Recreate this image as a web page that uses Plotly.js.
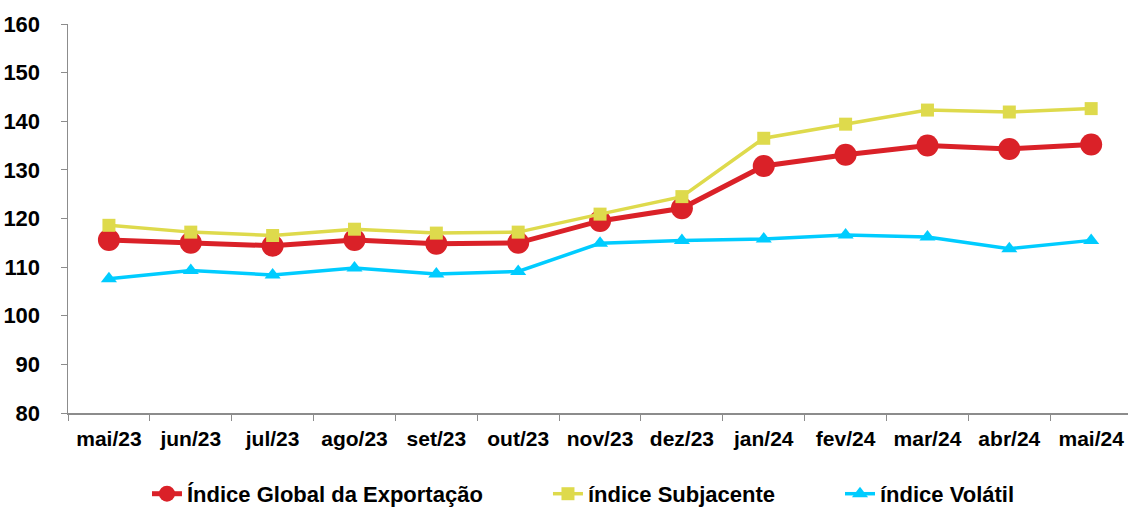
<!DOCTYPE html>
<html>
<head>
<meta charset="utf-8">
<script src="https://cdn.plot.ly/plotly-3.0.1.min.js"></script>
<style>
html,body{margin:0;padding:0;background:#fff;overflow:hidden;}
#chart{width:1128px;height:507px;}
</style>
</head>
<body>
<div id="chart"></div>
<script>
const categories = ["mai/23","jun/23","jul/23","ago/23","set/23","out/23","nov/23","dez/23","jan/24","fev/24","mar/24","abr/24","mai/24"];
const indiceGlobal = [115.6,115.0,114.4,115.6,114.8,115.0,119.5,122.1,130.8,133.1,135.0,134.3,135.2];
const indiceSubjacente = [118.6,117.2,116.5,117.8,117.0,117.2,120.9,124.5,136.5,139.4,142.3,141.9,142.6];
const indiceVolatil = [107.6,109.3,108.4,109.8,108.6,109.1,114.9,115.5,115.8,116.6,116.2,113.8,115.5];
const seriesNames = ["Índice Global da Exportação","índice Subjacente","índice Volátil"];

const font = "Liberation Sans, Arial, sans-serif";
const legFont = {family: font, size: 22, color: '#000', weight: 'bold'};

const traces = [
  {x: categories, y: indiceGlobal, name: seriesNames[0], type: 'scatter', mode: 'lines+markers', legend: 'legend',
   line: {color: '#DA2128', width: 5}, marker: {symbol: 'circle', size: 22, color: '#DA2128'}},
  {x: categories, y: indiceSubjacente, name: seriesNames[1], type: 'scatter', mode: 'lines+markers', legend: 'legend2',
   line: {color: '#DEDA4C', width: 3.5}, marker: {symbol: 'square', size: 13, color: '#DEDA4C'}},
  {x: categories, y: indiceVolatil, name: seriesNames[2], type: 'scatter', mode: 'lines+markers', legend: 'legend3',
   line: {color: '#00CCFF', width: 3.5}, marker: {symbol: 'triangle-up', size: 14, color: '#00CCFF'}}
];

function leg(xp) {
  return {orientation: 'h', x: xp, xanchor: 'left', y: -0.208, yanchor: 'middle', font: legFont, bgcolor: 'rgba(0,0,0,0)'};
}

const layout = {
  width: 1128, height: 507,
  margin: {l: 68, r: 0, t: 24, b: 94, autoexpand: false},
  paper_bgcolor: '#fff', plot_bgcolor: '#fff',
  font: {family: font, size: 20, color: '#000', weight: 'bold'},
  showlegend: true,
  legend: leg(0.0745),
  legend2: leg(0.4528),
  legend3: leg(0.7283),
  xaxis: {type: 'category', range: [-0.5, 12.45], showline: true, linecolor: '#8c8c8c', linewidth: 1.5,
          ticks: 'outside', ticklen: 6, tickcolor: '#8c8c8c', tickson: 'boundaries', showgrid: false,
          zeroline: false, tickfont: {family: font, size: 21, color: '#000', weight: 'bold'}, ticklabelstandoff: 6},
  yaxis: {range: [80, 160], dtick: 10, tick0: 80, showline: true, linecolor: '#8c8c8c', linewidth: 1.5,
          ticks: 'outside', ticklen: 6, tickcolor: '#8c8c8c', showgrid: false, zeroline: false,
          tickfont: {family: font, size: 22, color: '#000', weight: 'bold'}, ticklabelstandoff: 16}
};

Plotly.newPlot('chart', traces, layout, {displayModeBar: false, staticPlot: true});
</script>
</body>
</html>
